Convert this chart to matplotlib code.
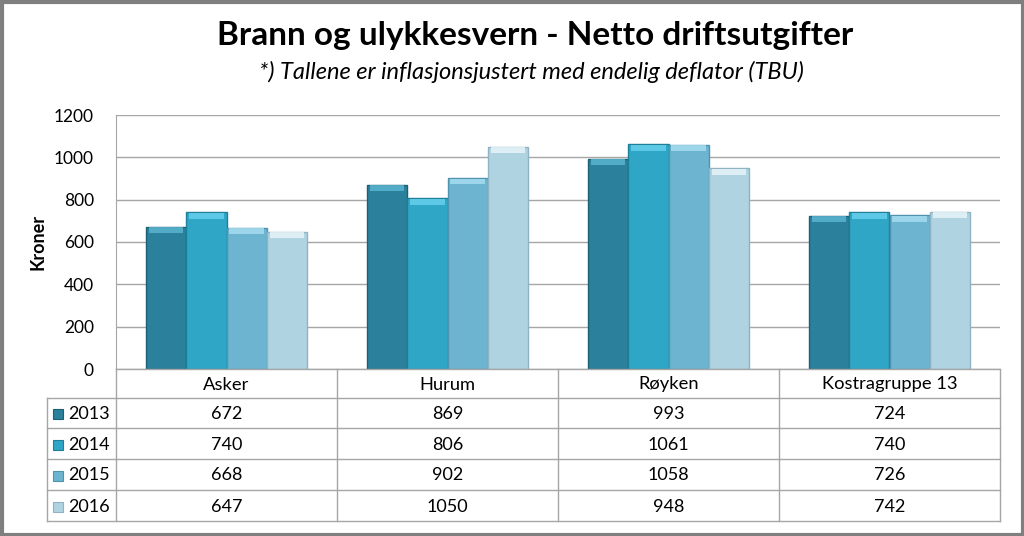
import numpy as np
import matplotlib
matplotlib.use("Agg")
import matplotlib.pyplot as plt
from matplotlib.patches import Rectangle

plt.rcParams['font.family'] = ['Lato', 'DejaVu Sans']

# Data
groups = ['Asker', 'Hurum', 'Røyken', 'Kostragruppe 13']
years = ['2013', '2014', '2015', '2016']
v2013 = [672, 869, 993, 724]
v2014 = [740, 806, 1061, 740]
v2015 = [668, 902, 1058, 726]
v2016 = [647, 1050, 948, 742]
series = [v2013, v2014, v2015, v2016]
colors = ['#2b809b', '#30a6c6', '#6cb4d0', '#b0d3e1']
tops = ['#5ab3cf', '#66d0ec', '#a6dbef', '#e6f4f9']
edges = ['#1d5f74', '#1f7f99', '#4f93ad', '#8fb3c2']

W, H = 1024, 536
fig = plt.figure(figsize=(W / 100, H / 100), dpi=100)

# plot area in pixels
L, R, T, B = 116, 1000, 115, 369
ax = fig.add_axes([L / W, 1 - B / H, (R - L) / W, (B - T) / H])

x = np.arange(len(groups))
bw = 0.182
for i, vals in enumerate(series):
    pos = x + (i - 1.5) * bw
    ax.bar(pos, vals, width=bw, color=colors[i], edgecolor=edges[i], linewidth=1.0, zorder=3)
    # bevel highlight on top of each bar
    ax.bar(pos, [28] * len(vals), bottom=np.array(vals) - 30, width=bw * 0.86,
           color=tops[i], linewidth=0, zorder=4, alpha=0.85)

ax.set_xlim(-0.5, len(groups) - 0.5)
ax.set_ylim(0, 1200)
ax.set_yticks(range(0, 1201, 200))
ax.set_xticks([])
ax.grid(axis='y', color='#a6a6a6', linewidth=1.0, zorder=0)
for s in ['top', 'right', 'bottom']:
    ax.spines[s].set_visible(False)
ax.spines['left'].set_color('#a6a6a6')
ax.tick_params(axis='y', length=0, labelsize=12.5, pad=16)
ax.set_ylabel('Kroner', fontsize=13, fontweight='bold', labelpad=5)

# titles
fig.text(0.523, 1 - 35 / H, 'Brann og ulykkesvern - Netto driftsutgifter',
         ha='center', va='center', fontsize=24, fontweight='bold')
fig.text(0.519, 1 - 72 / H, '*) Tallene er inflasjonsjustert med endelig deflator (TBU)',
         ha='center', va='center', fontsize=17, style='italic')

# data table
tab = fig.add_axes([0, 0, 1, 1])
tab.set_xlim(0, W)
tab.set_ylim(H, 0)
tab.axis('off')
lc = '#a6a6a6'
gw = (R - L) / len(groups)
row_y = [369, 398, 428, 459, 490, 521]
left_x = 47
# horizontal lines
tab.plot([L, R], [row_y[0], row_y[0]], color=lc, lw=1)
for yy in row_y[1:]:
    tab.plot([left_x, R], [yy, yy], color=lc, lw=1)
# vertical lines
for k in range(len(groups) + 1):
    xx = L + k * gw
    tab.plot([xx, xx], [row_y[0], row_y[-1]], color=lc, lw=1)
tab.plot([left_x, left_x], [row_y[1], row_y[-1]], color=lc, lw=1)

for k, g in enumerate(groups):
    tab.text(L + (k + 0.5) * gw, (row_y[0] + row_y[1]) / 2 + 1, g,
             ha='center', va='center', fontsize=13.2)
for i, (yr, vals) in enumerate(zip(years, series)):
    yc = (row_y[i + 1] + row_y[i + 2]) / 2 + 1
    tab.add_patch(Rectangle((53, yc - 5), 10, 10, facecolor=colors[i], edgecolor=edges[i], lw=0.8))
    tab.text(68, yc, yr, ha='left', va='center', fontsize=13)
    for k, v in enumerate(vals):
        tab.text(L + (k + 0.5) * gw, yc, str(v), ha='center', va='center', fontsize=13)

# outer border
tab.add_patch(Rectangle((1.5, 1.5), W - 3, H - 3, fill=False, edgecolor='#7f7f7f', lw=3))

fig.savefig('out.png', dpi=100)
